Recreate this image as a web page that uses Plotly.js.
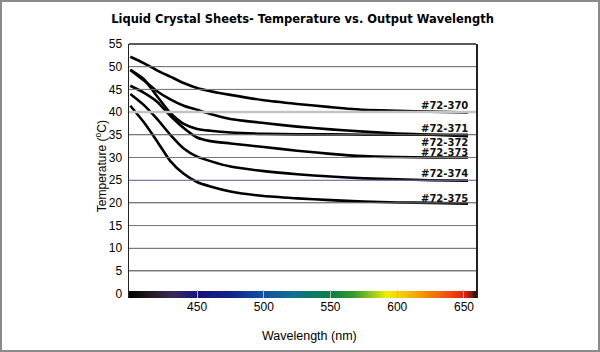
<!DOCTYPE html>
<html>
<head>
<meta charset="utf-8">
<script src="https://cdn.plot.ly/plotly-3.0.1.min.js"></script>
<style>
html,body{margin:0;padding:0;background:#fff;}
#wrap{position:relative;width:600px;height:352px;}
#chart{width:600px;height:352px;}
#frame{position:absolute;left:0;top:0;width:600px;height:352px;box-sizing:border-box;border:2px solid #8a8a8a;pointer-events:none;}
</style>
</head>
<body>
<div id="wrap"><div id="chart"></div><div id="frame"></div></div>
<script>
// Wavelength samples (nm)
const wavelengths = [400,410,420,430,440,450,460,475,500,525,550,575,600,625,653];
// Temperatures (°C) for each sheet
const s370 = [52.2,50.8,49.2,47.8,46.4,45.3,44.6,43.8,42.6,41.8,41.1,40.5,40.3,40.1,39.9];
const s371 = [49.3,47.0,44.6,42.8,41.4,40.5,39.6,38.5,37.6,36.8,36.2,35.7,35.3,35.0,34.7];
const s372 = [49.3,47.3,43.5,39.8,37.4,36.3,35.9,35.5,35.2,35.1,35.1,35.0,35.0,35.0,35.0];
const s373 = [45.8,44.3,42.3,39.2,36.5,34.4,33.6,33.1,32.3,31.5,30.8,30.3,30.1,30.0,30.0];
const s374 = [44.0,41.6,38.5,35.0,32.0,30.2,29.2,28.0,27.0,26.3,25.8,25.4,25.2,25.0,24.9];
const s375 = [41.4,37.8,33.6,29.2,26.4,24.6,23.6,22.5,21.5,21.0,20.6,20.3,20.1,20.0,19.8];
const seriesNames = ['#72-370','#72-371','#72-372','#72-373','#72-374','#72-375'];
const seriesData = [s370,s371,s372,s373,s374,s375];
// label positions (°C) at right end
const labelY = [41.4,36.4,33.3,31.1,26.4,21.0];
const labelX = 654.5;
const xTicks = [450,500,550,600,650];
const yTicks = [0,5,10,15,20,25,30,35,40,45,50,55];

// spectrum strip colour stops (nm, colour)
const xMin = 399, xMax = 659;
const specNm  = [399,415,432,450,475,500,520,537,552,568,582,592,606,622,640,650,655,659];
const specCol = ['#000000','#221a22','#3a2a5a','#15137a','#102488','#1450a0','#126c92','#0a7a6a',
                 '#108040','#3a9c2c','#9ccc1c','#eef000','#f4c400','#f28a00','#f04410','#e42410','#902010','#201010'];
function hex2rgb(h){return [1,3,5].map(i=>parseInt(h.substr(i,2),16));}
function specColor(w){
  for(let i=0;i<specNm.length-1;i++){
    if(w>=specNm[i] && w<=specNm[i+1]){
      const t=(w-specNm[i])/(specNm[i+1]-specNm[i]);
      const a=hex2rgb(specCol[i]), b=hex2rgb(specCol[i+1]);
      return 'rgb('+a.map((v,k)=>Math.round(v+(b[k]-v)*t)).join(',')+')';
    }
  }
  return specCol[specCol.length-1];
}
const stripX = [], stripC = [];
for (let w = xMin+0.5; w < xMax; w += 1) { stripX.push(w); stripC.push(specColor(w)); }
const stripBase = -0.95, stripTop = 0.65;

const traces = [{
  type:'bar', x: stripX, y: stripX.map(()=>stripTop-stripBase), base: stripBase,
  width: 1.05, marker:{color: stripC, line:{width:0}}, hoverinfo:'skip'
}];
seriesData.forEach((d,i)=>{
  traces.push({type:'scatter', mode:'lines', x: wavelengths, y: d, name: seriesNames[i],
    line:{color:'#000', width:2.6, shape:'spline', smoothing:0.6}});
});

const annotations = seriesNames.map((n,i)=>({
  x: labelX, y: labelY[i], xref:'x', yref:'y', text: n, showarrow:false,
  xanchor:'right', yanchor:'middle',
  font:{family:'DejaVu Sans, Arial, sans-serif', size:10, color:'#111', weight:'bold'}
}));
annotations.push({text:'Temperature (<sup>o</sup>C)', xref:'paper', yref:'paper', x:-0.08, y:0.52,
  xanchor:'center', yanchor:'middle', textangle:-90, showarrow:false,
  font:{family:'Liberation Sans Narrow, Arial Narrow, Arial, sans-serif', size:12, color:'#000'}});
annotations.push({text:'Wavelength (nm)', xref:'paper', yref:'paper', x:0.52, y:-0.115,
  xanchor:'center', yanchor:'top', showarrow:false,
  font:{family:'Liberation Sans Narrow, Arial Narrow, Arial, sans-serif', size:12.5, color:'#000'}});

// horizontal rules drawn from the y tick values, in the library's y scale
const gridShapes = yTicks.filter(v=>v>0 && v<55).map(v=>({
  type:'line', xref:'paper', yref:'y', x0:0, x1:1, y0:v, y1:v,
  line:{color: v===40 ? '#c4c4c4' : (v===25 ? '#8080c0' : '#7a7a7a'), width: v===40 ? 2.5 : 1},
  layer:'above'
}));
const shapes = gridShapes.concat([
  {type:'line', xref:'paper', yref:'paper', x0:0, x1:1, y0:1, y1:1, line:{color:'#222', width:1.5}}
]);

const layout = {
  width:600, height:352,
  margin:{l:129, r:124, t:44, b:54},
  paper_bgcolor:'#ffffff', plot_bgcolor:'#ffffff',
  showlegend:false, bargap:0,
  title:{text:'Liquid Crystal Sheets- Temperature vs. Output Wavelength',
    font:{family:'DejaVu Sans, Arial, sans-serif', size:11.5, color:'#000', weight:'bold'},
    x:0.5, xanchor:'center', y:0.945, yanchor:'middle', xref:'paper'},
  xaxis:{range:[xMin,xMax], tickvals:xTicks, ticktext:xTicks.map(String),
    showgrid:false, zeroline:false, showline:false,
    ticks:'inside', ticklen:8, tickcolor:'#bbbbbb', tickwidth:1,
    tickfont:{family:'Liberation Sans Narrow, Arial Narrow, Arial, sans-serif', size:12, color:'#000'}},
  yaxis:{range:[-0.95,55], tickvals:yTicks, ticktext:yTicks.map(String),
    showgrid:true, gridcolor:'#7a7a7a', gridwidth:1, zeroline:false,
    showline:true, mirror:true, linecolor:'#222', linewidth:1.5,
    ticks:'', ticklabelstandoff:3,
    tickfont:{family:'Liberation Sans Narrow, Arial Narrow, Arial, sans-serif', size:12, color:'#000'}},
  annotations: annotations,
  shapes: shapes
};
Plotly.newPlot('chart', traces, layout, {displayModeBar:false, staticPlot:true});
</script>
</body>
</html>
